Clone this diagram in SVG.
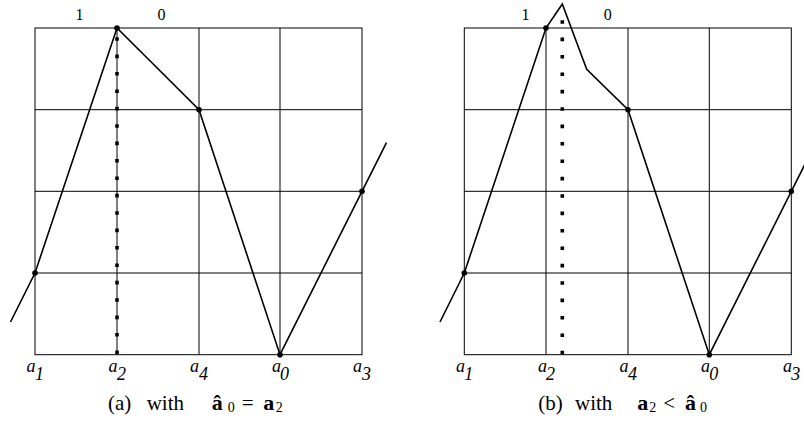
<svg xmlns="http://www.w3.org/2000/svg" width="804" height="426" viewBox="0 0 804 426">
<style>
.grid{stroke:#000;stroke-width:1;fill:none}
.curve{stroke:#000;stroke-width:1.6;fill:none;stroke-linejoin:miter}
.dots{stroke:#000;stroke-width:3.6;stroke-dasharray:3.6 13.8;fill:none}
.pt{fill:#000}
.lab{font-family:"Liberation Serif","DejaVu Serif",serif;font-size:18px;font-style:italic;fill:#000}
.top{font-family:"Liberation Serif","DejaVu Serif",serif;font-size:16px;fill:#000;text-anchor:middle}
.cap{font-family:"Liberation Serif","DejaVu Serif",serif;font-size:21px;fill:#000}
.sub{font-size:14px}
.b{font-weight:bold;font-size:22px}
</style>
<rect width="804" height="426" fill="#fff"/>
<g id="panel-a">
  <g id="grid-a" class="grid">
    <rect x="35" y="28" width="327" height="326.7"/>
    <line x1="117" y1="28" x2="117" y2="354.7"/>
    <line x1="199" y1="28" x2="199" y2="354.7"/>
    <line x1="280" y1="28" x2="280" y2="354.7"/>
    <line x1="35" y1="109.7" x2="362" y2="109.7"/>
    <line x1="35" y1="191.3" x2="362" y2="191.3"/>
    <line x1="35" y1="273" x2="362" y2="273"/>
  </g>
  <g id="connectors-a">
    <line class="dots" x1="117" y1="37.2" x2="117" y2="354.5"/>
    <polyline class="curve" points="10.5,322 35,273 117,28 199,109.7 280,354.7 362,191.3 386.5,142.7"/>
  </g>
  <g id="points-a">
    <circle class="pt" cx="35" cy="273" r="2.8"/>
    <circle class="pt" cx="117" cy="28" r="2.8"/>
    <circle class="pt" cx="199" cy="109.7" r="2.8"/>
    <circle class="pt" cx="280" cy="354.7" r="2.8"/>
    <circle class="pt" cx="362" cy="191.3" r="2.8"/>
  </g>
  <g id="labels-a">
    <text class="top" x="79.5" y="20">1</text>
    <text class="top" x="161.5" y="20">0</text>
    <text class="lab" x="26.5" y="372">a<tspan x="35" y="380">1</tspan></text>
    <text class="lab" x="108.5" y="372">a<tspan x="117" y="380">2</tspan></text>
    <text class="lab" x="190" y="372">a<tspan x="199" y="380">4</tspan></text>
    <text class="lab" x="272" y="372">a<tspan x="280" y="380">0</tspan></text>
    <text class="lab" x="353" y="372">a<tspan x="362" y="380">3</tspan></text>
    <text class="cap" x="108" y="409.5">(a)</text>
    <text class="cap" x="146.7" y="409.5">with</text>
    <text class="cap" x="211.7" y="409.5"><tspan class="b">â</tspan><tspan class="sub" x="227.7" y="412">0</tspan><tspan x="241.7" y="409.5">=</tspan><tspan class="b" x="263.3" y="409.5">a</tspan><tspan class="sub" x="275.7" y="412">2</tspan></text>
  </g>
</g>
<g id="panel-b">
  <g id="grid-b" class="grid">
    <rect x="464.3" y="28" width="327" height="326.7"/>
    <line x1="546" y1="28" x2="546" y2="354.7"/>
    <line x1="628" y1="28" x2="628" y2="354.7"/>
    <line x1="709.3" y1="28" x2="709.3" y2="354.7"/>
    <line x1="464.3" y1="109.7" x2="791.3" y2="109.7"/>
    <line x1="464.3" y1="191.3" x2="791.3" y2="191.3"/>
    <line x1="464.3" y1="273" x2="791.3" y2="273"/>
  </g>
  <g id="connectors-b">
    <line class="dots" x1="562.3" y1="20.2" x2="562.3" y2="354.5"/>
    <polyline class="curve" points="440,322 464.3,273 546,28 562.3,4 586.7,69.3 628,109.7 709.3,354.7 791.3,191.3 815.8,142.7"/>
  </g>
  <g id="points-b">
    <circle class="pt" cx="464.3" cy="273" r="2.8"/>
    <circle class="pt" cx="546" cy="28" r="2.8"/>
    <circle class="pt" cx="628" cy="109.7" r="2.8"/>
    <circle class="pt" cx="709.3" cy="354.7" r="2.8"/>
    <circle class="pt" cx="791.3" cy="191.3" r="2.8"/>
  </g>
  <g id="labels-b">
    <text class="top" x="525.5" y="20">1</text>
    <text class="top" x="607.7" y="20">0</text>
    <text class="lab" x="456" y="372">a<tspan x="464.3" y="380">1</tspan></text>
    <text class="lab" x="538" y="372">a<tspan x="546" y="380">2</tspan></text>
    <text class="lab" x="619.5" y="372">a<tspan x="628" y="380">4</tspan></text>
    <text class="lab" x="701" y="372">a<tspan x="709.3" y="380">0</tspan></text>
    <text class="lab" x="783" y="372">a<tspan x="791.3" y="380">3</tspan></text>
    <text class="cap" x="538.3" y="409.5">(b)</text>
    <text class="cap" x="575" y="409.5">with</text>
    <text class="cap" x="637.3" y="409.5"><tspan class="b">a</tspan><tspan class="sub" x="649.3" y="412">2</tspan><tspan x="663.3" y="409.5">&lt;</tspan><tspan class="b" x="685" y="409.5">â</tspan><tspan class="sub" x="700" y="412">0</tspan></text>
  </g>
</g>
</svg>
